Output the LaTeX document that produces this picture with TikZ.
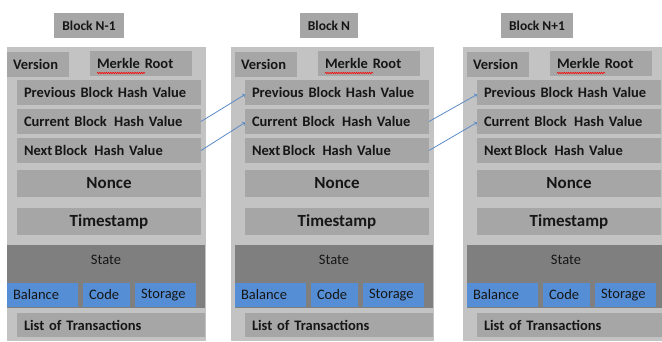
\documentclass[tikz,border=0pt]{standalone}
\usepackage{fontspec}
\setmainfont{Carlito}
\usepackage{tikz}
\usetikzlibrary{decorations.pathmorphing}
\definecolor{shell}{HTML}{C3C3C3}
\definecolor{field}{HTML}{A6A6A6}
\definecolor{statebg}{HTML}{7F7F7F}
\definecolor{acct}{HTML}{558ED5}
\definecolor{link}{HTML}{5A8AC6}
\definecolor{ink}{HTML}{161616}
\tikzstyle{box}=[rectangle, anchor=north west, inner ysep=0pt, outer sep=0pt, text=ink]
\tikzstyle{shellbox}=[box, fill=shell, minimum height=294pt]
\tikzstyle{fld}=[box, fill=field, inner xsep=7pt, minimum height=25pt, font=\fontsize{14.5}{16}\selectfont\bfseries, align=left]
\tikzstyle{bigfld}=[box, fill=field, minimum height=27pt, font=\fontsize{17}{19}\selectfont\bfseries]
\tikzstyle{acctbox}=[box, fill=acct, inner xsep=6pt, minimum height=24pt, font=\fontsize{14.5}{16}\selectfont, align=left]
\tikzstyle{title}=[rectangle, fill=field, inner xsep=8pt, minimum height=25pt, text=ink, font=\fontsize{13.5}{15}\selectfont\bfseries]

\begin{document}
\begin{tikzpicture}[x=1pt, y=-1pt]
    \useasboundingbox (0,0) rectangle (662,341);
    \begin{scope}
    \clip (0,0) rectangle (662,341);
    \foreach \i/\L/\O/\T/\name in {1/7/7/89/{Block N-1}, 2/235/231/329/{Block N}, 3/467/463/537/{Block N+1}}{
        \node[title] (hd\i) at (\T, 25.5) {\name};
        \node[shellbox, minimum width=\L+199-\O] (blk\i) at (\O, 47) {};
        % header row
        \node[fld, text width=50pt, inner xsep=6pt] (ver\i) at (\L, 52) {Version};
        \node[fld, text width=88pt] (mrk\i) at (\L+83, 51) {Merkle Root};
        \draw[red, line width=0.6pt, decorate, decoration={snake, amplitude=0.7pt, segment length=2.2pt}]
            ([shift={(7,-3)}]mrk\i.south west) -- ([shift={(55,-3)}]mrk\i.south west);
        % hash values
        \node[fld, text width=170pt] (prev\i) at (\L+10, 80) {Previous Block Hash Value};
        \node[fld, text width=170pt] (cur\i) at (\L+10, 109) {Current Block\ \,Hash Value};
        \node[fld, text width=170pt] (nxt\i) at (\L+10, 138) {Next\,Block\ \,Hash Value};
        \node[bigfld, minimum width=184pt] (nonce\i) at (\L+10, 170) {Nonce};
        \node[bigfld, minimum width=184pt] (time\i) at (\L+10, 208) {Timestamp};
        % state with its account fields
        \node[box, fill=statebg, minimum width=198pt, minimum height=63pt] (state\i) at (\L, 245) {};
        \node[font=\fontsize{14.5}{16}\selectfont, text=ink] at ([yshift=-15]state\i.north) {State};
        \node[acctbox, text width=59pt] (bal\i) at (\L, 283) {Balance};
        \node[acctbox, text width=35pt] (code\i) at (\L+76, 283) {Code};
        \node[acctbox, text width=49pt] (stor\i) at (\L+128, 283) {Storage};
        \node[fld, text width=174pt, minimum height=24pt] (txs\i) at (\L+10, 313) {List of Transactions};
    }
    \end{scope}
    % links between neighbouring blocks
    \foreach \a/\b in {1/2, 2/3}{
        \draw[->, link, line width=0.8pt] (cur\a.east) -- ([yshift=-2]prev\b.west);
        \draw[->, link, line width=0.8pt] (nxt\a.east) -- ([yshift=-1]cur\b.west);
    }
\end{tikzpicture}
\end{document}
